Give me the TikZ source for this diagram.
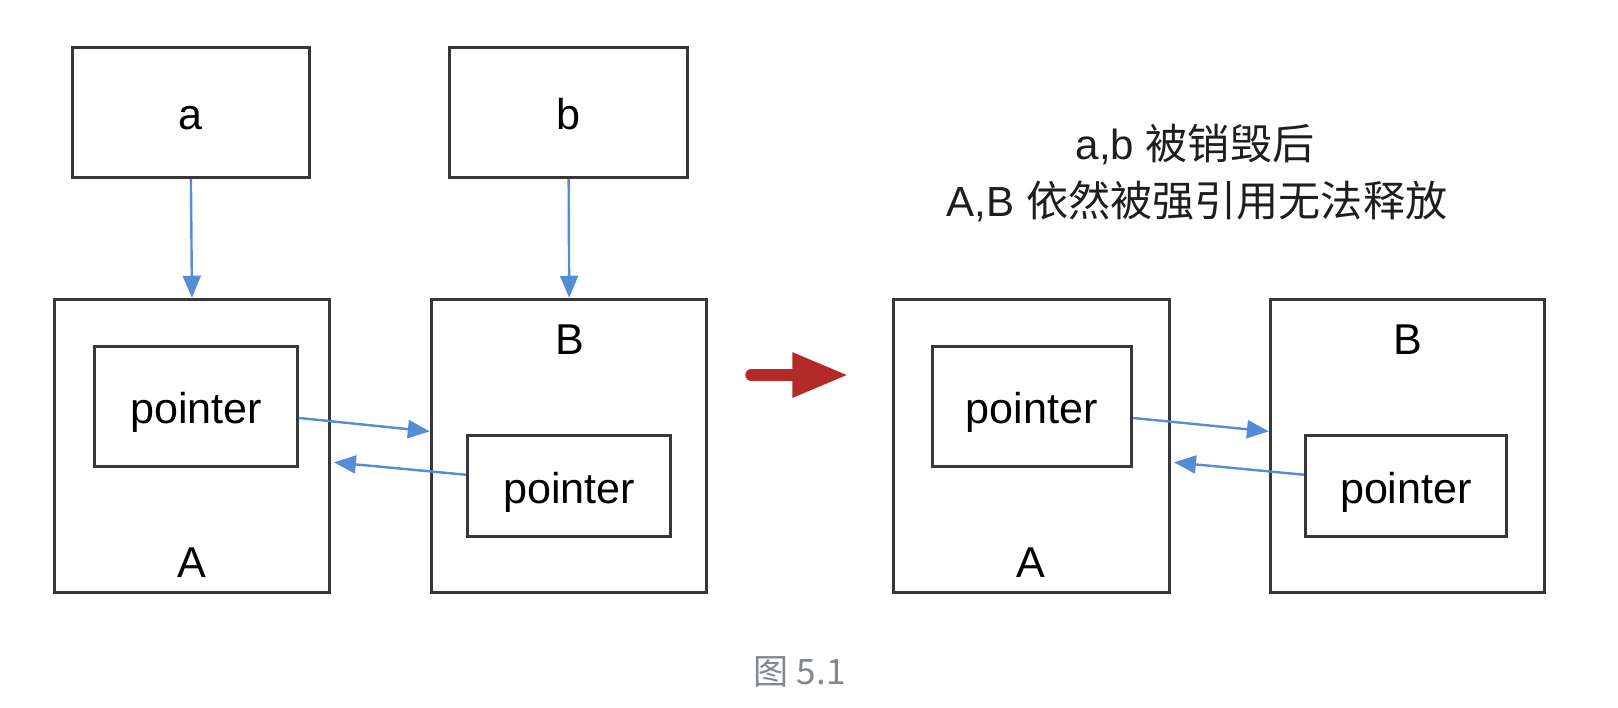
\documentclass[tikz,border=0pt]{standalone}
\usepackage{fontspec}
\setmainfont{Liberation Sans}
\newfontfamily\cjk{Noto Sans CJK SC}
\usetikzlibrary{arrows.meta}
\definecolor{linkblue}{RGB}{84,140,214}
\definecolor{boxgray}{RGB}{55,55,55}
\definecolor{redarrow}{RGB}{180,42,38}
\definecolor{capgray}{RGB}{130,136,140}
\definecolor{titlegray}{RGB}{30,30,30}
\tikzset{
  box/.style={draw=boxgray, line width=3pt, rectangle, inner sep=0pt},
  lbl/.style={font=\fontsize{41.8}{48}\selectfont, text=black, inner sep=0pt},
  boxtext/.style={text height=33pt, text depth=0pt},
  link/.style={draw=linkblue, line width=2.4pt, -{Triangle[length=22pt,width=18pt]}},
}
\begin{document}
\begin{tikzpicture}[x=1pt,y=-1pt,scale=1.0319,every node/.append style={transform shape}]
\useasboundingbox (0,0) rectangle (1568,686.1);
% top boxes
\node[box, minimum width=230pt, minimum height=126pt, lbl, boxtext] (a) at (185,109) {a};
\node[box, minimum width=230pt, minimum height=126pt, lbl, boxtext] (b) at (551,109) {b};
% left pair
\node[box, minimum width=266pt, minimum height=284pt] (A) at (186,432) {};
\node[box, minimum width=197pt, minimum height=116pt, lbl, boxtext] (pA) at (190,394) {pointer};
\node[lbl] (labA) at (186,545) {A};
\node[box, minimum width=267pt, minimum height=284pt] (B) at (551.5,432) {};
\node[box, minimum width=197pt, minimum height=98pt, lbl, boxtext] (pB) at (551.5,471) {pointer};
\node[lbl] (labB) at (552,329) {B};
\draw[link] (a.south) -- (A.north);
\draw[link] (b.south) -- (B.north);
\draw[link] ([yshift=-11pt]pA.east) -- ([yshift=14pt]B.west);
\draw[link] ([yshift=11pt]pB.west) -- ([xshift=3pt,yshift=-16pt]A.east);
% red arrow
\coordinate (r1) at (728,363.4);
\coordinate (r2) at (822,363.4);
\draw[redarrow, line width=12pt, line cap=round, -{Triangle[length=56pt,width=42pt]}] (r1) -- (r2);
% right pair
\node[box, minimum width=267pt, minimum height=284pt] (A2) at (999.5,432) {};
\node[box, minimum width=193pt, minimum height=116pt, lbl, boxtext] (pA2) at (1000,394) {pointer};
\node[lbl] (labA2) at (999,545) {A};
\node[box, minimum width=266pt, minimum height=284pt] (B2) at (1364,432) {};
\node[box, minimum width=195pt, minimum height=98pt, lbl, boxtext] (pB2) at (1362.5,471) {pointer};
\node[lbl] (labB2) at (1364,329) {B};
\draw[link] ([yshift=-11pt]pA2.east) -- ([yshift=14pt]B2.west);
\draw[link] ([yshift=11pt]pB2.west) -- ([xshift=3pt,yshift=-16pt]A2.east);
% title
\node[lbl, font=\fontsize{40.8}{47}\selectfont, text=titlegray] (t1) at (1158,140) {a,b {\cjk 被销毁后}};
\node[lbl, font=\fontsize{40.8}{47}\selectfont, text=titlegray] (t2) at (1160,195) {A,B {\cjk 依然被强引用无法释放}};
% caption
\node[font=\cjk\fontsize{34}{38}\selectfont, text=capgray, inner sep=0pt] (cap) at (775,651) {图 5.1};
\end{tikzpicture}
\end{document}
